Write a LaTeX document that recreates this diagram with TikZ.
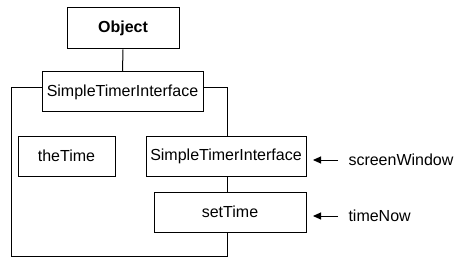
\documentclass[tikz,border=0pt]{standalone}
\usepackage{fontspec}
\setmainfont{Liberation Sans}
\usetikzlibrary{arrows.meta}
\begin{document}
\begin{tikzpicture}[x=1pt,y=-1pt,line width=1pt,
  every node/.style={font=\fontsize{16}{18}\selectfont},
  box/.style={draw,rectangle,inner sep=0pt,minimum height=40pt},
  lbl/.style={anchor=west,inner sep=0pt},
  feed/.style={-{Triangle[length=8pt,width=7pt]}}]
  \useasboundingbox (0,0) rectangle (461,270);
  % class boxes
  \node[box,minimum width=112pt,minimum height=41pt,font=\fontsize{16}{18}\selectfont\bfseries] (obj) at (123,28.5) {Object};
  \node[box,minimum width=161pt] (sti) at (122.5,92) {SimpleTimerInterface};
  \node[box,minimum width=97pt] (tt) at (66.5,156) {theTime};
  \node[box,minimum width=160pt] (sti2) at (226,156) {SimpleTimerInterface};
  \node[box,minimum width=152pt] (st) at (230,212) {setTime};
  % enclosing frame corners
  \coordinate (fl) at (11,88);
  \coordinate (fbl) at (11,256);
  \coordinate (fbr) at (227,256);
  \coordinate (fr) at (227,88);
  % connectors
  \draw (obj.south) -- (sti.north);
  \draw (sti.west |- fl) -- (fl) -- (fbl) -- (fbr) -- (fbr |- st.south);
  \draw (sti.east |- fr) -- (fr) -- (fr |- sti2.north);
  \draw (fr |- sti2.south) -- (fr |- st.north);
  % parameters
  \node[lbl] (sw) at (348,160) {screenWindow};
  \node[lbl] (tn) at (348,216) {timeNow};
  \coordinate (swa) at (313,160);
  \coordinate (tna) at (313,216);
  \draw[feed] (sw.west) ++(-10,0) -- (swa);
  \draw[feed] (tn.west) ++(-10,0) -- (tna);
\end{tikzpicture}
\end{document}
